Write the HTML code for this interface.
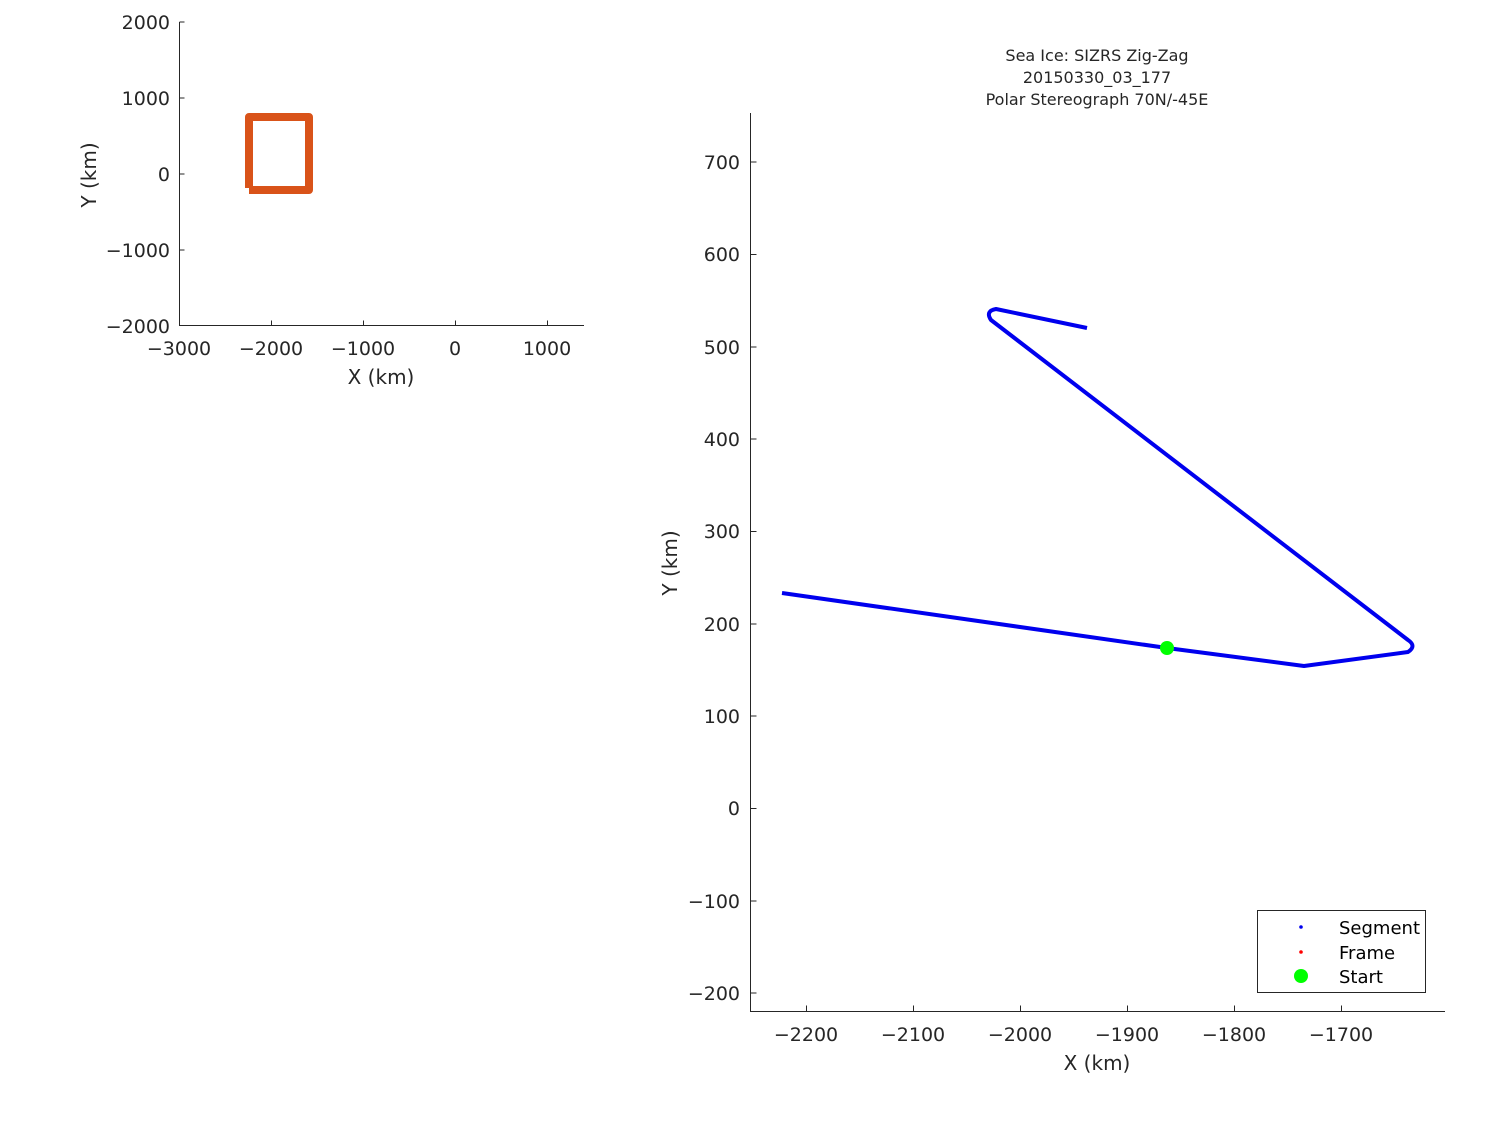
<!DOCTYPE html>
<html><head><style>
html,body{margin:0;padding:0;background:#fff;}
svg{display:block;}
text{font-family:"DejaVu Sans","Liberation Sans",sans-serif;fill:#262626;}
</style></head><body>
<svg width="1500" height="1125" xmlns="http://www.w3.org/2000/svg">
<rect width="1500" height="1125" fill="#fff"/>
<g stroke="#262626" stroke-width="1" fill="none">
<path d="M179.5 22 V325.5 H584"/>
<path d="M179.5 22h5M179.5 98h5M179.5 174h5M179.5 250h5"/>
<path d="M271.5 325.5v-5M363.5 325.5v-5M455.5 325.5v-5M547.5 325.5v-5"/>
</g>
<g font-size="19" text-anchor="end">
<text x="170" y="29">2000</text>
<text x="170" y="105">1000</text>
<text x="170" y="181">0</text>
<text x="170" y="257">−1000</text>
<text x="170" y="333">−2000</text>
</g>
<g font-size="19" text-anchor="middle">
<text x="179" y="355">−3000</text>
<text x="271" y="355">−2000</text>
<text x="363" y="355">−1000</text>
<text x="455" y="355">0</text>
<text x="547" y="355">1000</text>
<text x="381" y="384" font-size="20">X (km)</text>
</g>
<text transform="translate(96,175) rotate(-90)" font-size="20" text-anchor="middle">Y (km)</text>
<path d="M249 188 V117 H309 V190 H249" stroke="#D95319" stroke-width="8" fill="none" stroke-linejoin="round"/>

<text x="1097" y="61" font-size="16" text-anchor="middle">Sea Ice: SIZRS Zig-Zag</text>
<text x="1097" y="83" font-size="16" text-anchor="middle">20150330_03_177</text>
<text x="1097" y="105" font-size="16" text-anchor="middle">Polar Stereograph 70N/-45E</text>
<g stroke="#262626" stroke-width="1" fill="none">
<path d="M750.5 113 V1011.5 H1445"/>
<path d="M750.5 162h6M750.5 254.5h6M750.5 347h6M750.5 439h6M750.5 531.5h6M750.5 624h6M750.5 716h6M750.5 808.5h6M750.5 901h6M750.5 993h6"/>
<path d="M806.5 1011.5v-6M913.5 1011.5v-6M1020.5 1011.5v-6M1127.5 1011.5v-6M1234.5 1011.5v-6M1341.5 1011.5v-6"/>
</g>
<g font-size="19" text-anchor="end">
<text x="740" y="169">700</text>
<text x="740" y="261">600</text>
<text x="740" y="354">500</text>
<text x="740" y="446">400</text>
<text x="740" y="538">300</text>
<text x="740" y="631">200</text>
<text x="740" y="723">100</text>
<text x="740" y="815">0</text>
<text x="740" y="908">−100</text>
<text x="740" y="1000">−200</text>
</g>
<g font-size="19" text-anchor="middle">
<text x="806" y="1041">−2200</text>
<text x="913" y="1041">−2100</text>
<text x="1020" y="1041">−2000</text>
<text x="1127" y="1041">−1900</text>
<text x="1234" y="1041">−1800</text>
<text x="1341" y="1041">−1700</text>
<text x="1097" y="1070" font-size="20">X (km)</text>
</g>
<text transform="translate(677,563) rotate(-90)" font-size="20" text-anchor="middle">Y (km)</text>
<path d="M782 593 L1167 648 L1304 666 L1408 652 Q1417 646 1408 640 L991 320 Q985 311 996 309 L1087 328" stroke="#0000ee" stroke-width="4" fill="none" stroke-linejoin="round"/>
<circle cx="1167" cy="648" r="7" fill="#00ff00"/>
<rect x="1257.5" y="910.5" width="168" height="82" fill="#fff" stroke="#262626"/>
<circle cx="1301" cy="927" r="1.8" fill="#0000ee"/>
<circle cx="1301" cy="952" r="1.8" fill="#ff0000"/>
<circle cx="1301" cy="976" r="7" fill="#00ff00"/>
<g font-size="18">
<text x="1339" y="934" style="fill:#000">Segment</text>
<text x="1339" y="959" style="fill:#000">Frame</text>
<text x="1339" y="983" style="fill:#000">Start</text>
</g>
</svg>
</body></html>
